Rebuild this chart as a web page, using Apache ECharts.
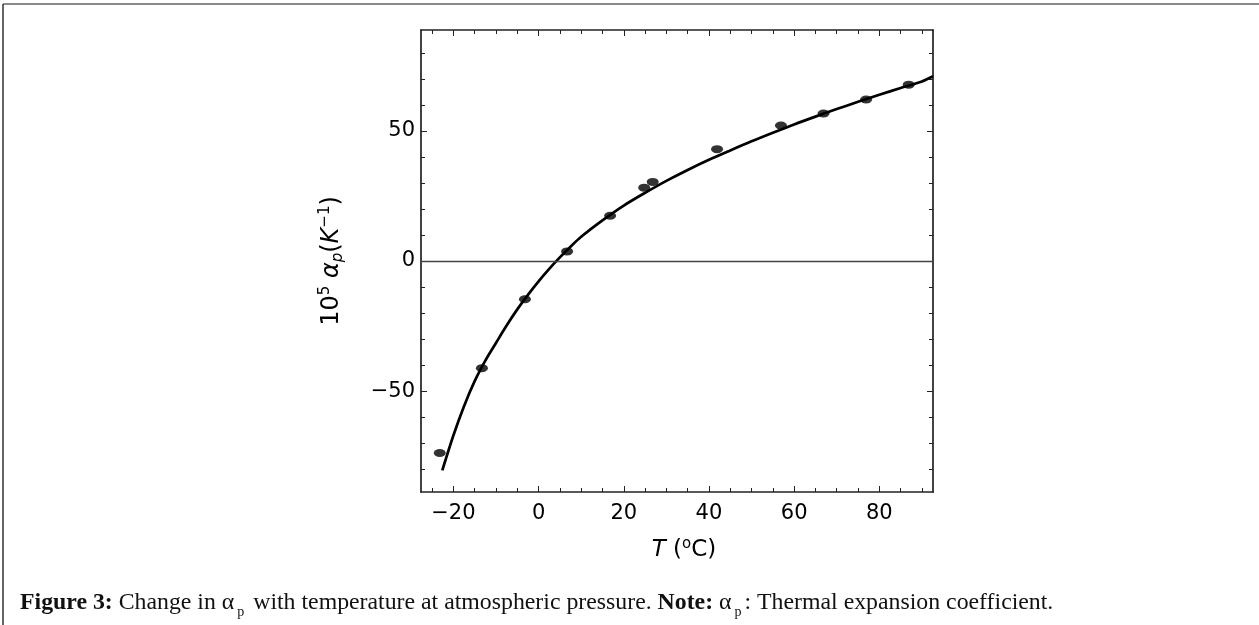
<!DOCTYPE html>
<html>
<head>
<meta charset="utf-8">
<title>alpha_p vs T</title>
<script src="https://cdn.jsdelivr.net/npm/echarts@6/dist/echarts.min.js"></script>
<style>
html,body{margin:0;padding:0;background:#fff;}
#main{width:1259px;height:625px;}
</style>
</head>
<body>
<div id="main"></div>
<script>
// 测量点 (T, 10^5 alpha_p)
var tempPoints = [-23.2, -13.3, -3.2, 6.7, 16.8, 24.8, 26.8, 41.9, 56.9, 66.9, 76.9, 86.9];
var alphaPoints = [-73.8, -41.2, -14.7, 3.7, 17.4, 28.2, 30.4, 43.0, 52.1, 56.7, 62.1, 67.8];
// 拟合曲线
var tempCurve = [-22.6, -20, -17.5, -15, -12.5, -10, -7.5, -5, -2.5, 0, 2.5, 5, 7.5, 10, 15, 20, 25, 30, 35, 40, 45, 50, 55, 60, 65, 70, 75, 80, 85, 90, 92.6];
var alphaCurve = [-80.5, -67.1, -55.8, -46.2, -38.3, -31.5, -24.8, -18.6, -13.0, -7.8, -3.0, 1.4, 5.5, 9.3, 15.6, 21.3, 26.2, 30.8, 35.0, 38.9, 42.5, 46.0, 49.3, 52.5, 55.5, 58.4, 61.2, 63.9, 66.5, 69.0, 71.0];
// 刻度
var xLabels = [-20, 0, 20, 40, 60, 80];
var xMinorTicks = [-25, -15, -10, -5, 5, 10, 15, 25, 30, 35, 45, 50, 55, 65, 70, 75, 85, 90];
var yLabels = [-50, 0, 50];
var yMinorTicks = [-80, -70, -60, -40, -30, -20, -10, 10, 20, 30, 40, 60, 70, 80];

var xMin = -27.6, xMax = 92.6, yMin = -88.8, yMax = 88.8;

function pairs(xs, ys){
	var out = [];
	for(var i=0; i<xs.length; i++){
		out.push([xs[i], ys[i]]);
	}
	return out;
}
function minusFmt(v){
	return v < 0 ? '\u2212' + Math.abs(v) : String(v);
}

var frameColor = '#222';
var tickFont = {fontFamily: 'DejaVu Sans', fontSize: 21, color: '#000'};

function xAx(pos, ticks, len, labels, showLine){
	return {
		type: 'value', position: pos, min: xMin, max: xMax,
		axisLine: {show: showLine, onZero: false, lineStyle: {color: frameColor, width: 1.7}},
		axisTick: {show: true, inside: true, length: len, customValues: ticks, lineStyle: {color: frameColor, width: 1}},
		axisLabel: labels ? Object.assign({customValues: labels, margin: 11, formatter: minusFmt}, tickFont) : {show: false},
		splitLine: {show: false}
	};
}
function yAx(pos, ticks, len, labels, showLine){
	return {
		type: 'value', position: pos, min: yMin, max: yMax,
		axisLine: {show: showLine, onZero: false, lineStyle: {color: frameColor, width: 1.7}},
		axisTick: {show: true, inside: true, length: len, customValues: ticks, lineStyle: {color: frameColor, width: 1}},
		axisLabel: labels ? Object.assign({customValues: labels, margin: 6, formatter: minusFmt}, tickFont) : {show: false},
		splitLine: {show: false}
	};
}

var xMain = xAx('bottom', xLabels, 6, xLabels, true);
xMain.name = '{it|T} ({sup|o}C)';
xMain.nameLocation = 'middle';
xMain.nameGap = 45;
xMain.nameTextStyle = {
	fontFamily: 'DejaVu Sans', fontSize: 23, color: '#000', padding: [0, 0, 0, 14],
	rich: {
		it: {fontFamily: 'DejaVu Sans', fontStyle: 'italic', fontSize: 23, color: '#000'},
		sup: {fontFamily: 'DejaVu Sans', fontSize: 15, color: '#000', padding: [0, 0, 12, 0]}
	}
};

var yMain = yAx('left', yLabels, 6, yLabels, true);
yMain.name = '10{sup|5} {it|\u03b1}{sub|p}({it|K}{sup|\u22121})';
yMain.nameLocation = 'middle';
yMain.nameGap = 75;
yMain.nameTextStyle = {
	fontFamily: 'DejaVu Sans', fontSize: 24, color: '#000',
	rich: {
		it: {fontFamily: 'DejaVu Sans', fontStyle: 'italic', fontSize: 24, color: '#000'},
		sup: {fontFamily: 'DejaVu Sans', fontSize: 15, color: '#000', padding: [0, 0, 13, 0]},
		sub: {fontFamily: 'DejaVu Sans', fontStyle: 'italic', fontSize: 15, color: '#000', padding: [13, 0, 0, 0]}
	}
};

var capStyle = {fontFamily: 'Liberation Serif', fontSize: 23.8, color: '#111'};
var myChart = echarts.init(document.getElementById('main'));
var option = {
	animation: false,
	backgroundColor: '#fff',
	title: {
		left: 15, top: 582,
		text: '{b|Figure 3:} Change in \u03b1{sub|p} with temperature at atmospheric pressure. {b|Note:} \u03b1{sub|p}: Thermal expansion coefficient.',
		textStyle: Object.assign({
			fontWeight: 'normal',
			rich: {
				b: Object.assign({}, capStyle, {fontWeight: 'bold'}),
				sub: Object.assign({}, capStyle, {fontSize: 14, padding: [18, 3, 0, 3]})
			}
		}, capStyle)
	},
	grid: {left: 421, right: 326, top: 30, bottom: 133, containLabel: false},
	xAxis: [
		xMain,
		xAx('bottom', xMinorTicks, 4, null, false),
		xAx('top', xLabels, 6, null, true),
		xAx('top', xMinorTicks, 4, null, false)
	],
	yAxis: [
		yMain,
		yAx('left', yMinorTicks, 4, null, false),
		yAx('right', yLabels, 6, null, true),
		yAx('right', yMinorTicks, 4, null, false)
	],
	graphic: [
		{type: 'line', shape: {x1: 3, y1: 4, x2: 1259, y2: 4}, style: {stroke: '#8a8a8a', lineWidth: 2}},
		{type: 'line', shape: {x1: 3, y1: 4, x2: 3, y2: 625}, style: {stroke: '#333', lineWidth: 1.5}}
	],
	series: [
		{
			name: 'fit', type: 'line', smooth: 0.3, showSymbol: false,
			lineStyle: {color: '#000', width: 2.7},
			data: pairs(tempCurve, alphaCurve),
			markLine: {
				silent: true, symbol: ['none', 'none'], label: {show: false},
				lineStyle: {color: '#444', width: 1.4, type: 'solid'},
				data: [{yAxis: 0}]
			},
			z: 3
		},
		{
			name: 'data', type: 'scatter', symbol: 'circle', symbolSize: [12, 8],
			itemStyle: {color: '#000'},
			data: pairs(tempPoints, alphaPoints),
			z: 4
		}
	]
};
myChart.setOption(option);
</script>
</body>
</html>
